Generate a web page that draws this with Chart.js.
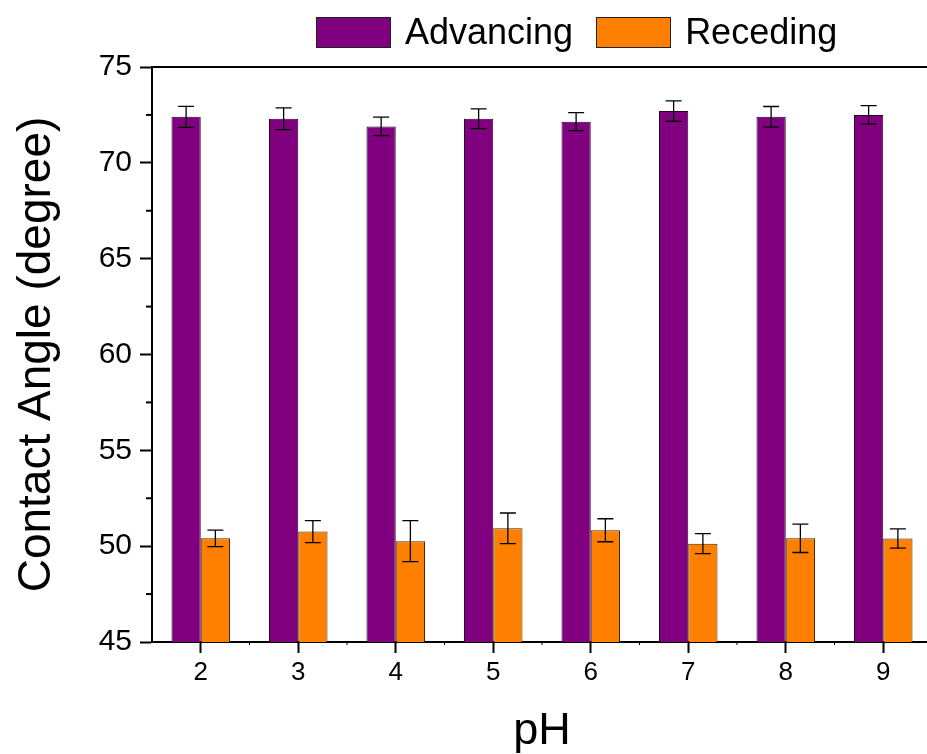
<!DOCTYPE html>
<html>
<head>
<meta charset="utf-8">
<title>Contact angle vs pH</title>
<script src="https://cdn.jsdelivr.net/npm/chart.js@4.4.1/dist/chart.umd.min.js"></script>
<style>
  html, body { margin: 0; padding: 0; overflow: hidden; background: #fff; }
  #wrap { position: relative; width: 927px; height: 754px; overflow: hidden; }
  #legend {
    position: absolute; top: 16px; left: 316px; height: 32px;
    display: flex; align-items: center;
    font-family: "Liberation Sans", Arial, sans-serif; font-size: 36px; color: #000;
  }
  .item { display: flex; align-items: center; margin-right: 23px; }
  .swatch { width: 75px; height: 31px; box-sizing: border-box; border: 1px solid #222; margin-right: 14px; }
</style>
</head>
<body>
<div id="wrap">
  <canvas id="chart" width="940" height="754"></canvas>
  <div id="legend"></div>
</div>
<script>
// pH values on the x axis
const categories = ['2', '3', '4', '5', '6', '7', '8', '9'];

// contact angles (degree), with their error bars
const advancing = [72.4, 72.3, 71.9, 72.3, 72.15, 72.7, 72.4, 72.5];
const advancingErr = [0.55, 0.57, 0.48, 0.52, 0.47, 0.53, 0.54, 0.48];
const receding = [50.41, 50.76, 50.26, 50.93, 50.83, 50.13, 50.41, 50.4];
const recedingErr = [0.43, 0.57, 1.07, 0.8, 0.6, 0.52, 0.74, 0.5];

// y axis ticks: labelled every 5, minor every 2.5
const yMin = 45;
const yMax = 75;
const yStep = 2.5;

const seriesNames = ['Advancing', 'Receding'];
const seriesColors = ['#800080', '#ff8000'];
const seriesBorders = ['#2a002a', '#4a2600'];

Chart.defaults.font.family = '"Liberation Sans", Arial, sans-serif';
Chart.defaults.color = '#000';

// error bars, minor ticks and the top frame line
const extrasPlugin = {
  id: 'extras',
  afterDatasetsDraw(chart) {
    const ctx = chart.ctx;
    const y = chart.scales.y;
    const x = chart.scales.x;
    const area = chart.chartArea;
    const errs = [advancingErr, recedingErr];

    ctx.save();
    ctx.strokeStyle = '#000';
    ctx.lineWidth = 1.3;
    chart.data.datasets.forEach((ds, di) => {
      const meta = chart.getDatasetMeta(di);
      meta.data.forEach((bar, i) => {
        const v = ds.data[i];
        const e = errs[di][i];
        const top = y.getPixelForValue(v + e);
        const bot = y.getPixelForValue(v - e);
        ctx.beginPath();
        ctx.moveTo(bar.x, top);
        ctx.lineTo(bar.x, bot);
        ctx.moveTo(bar.x - 8, top);
        ctx.lineTo(bar.x + 8, top);
        ctx.moveTo(bar.x - 8, bot);
        ctx.lineTo(bar.x + 8, bot);
        ctx.stroke();
      });
    });

    // top frame
    ctx.lineWidth = 2;
    ctx.beginPath();
    ctx.moveTo(area.left - 1, area.top);
    ctx.lineTo(area.right, area.top);
    ctx.stroke();

    // minor y ticks
    for (let v = yMin + yStep; v < yMax; v += 2 * yStep) {
      const py = y.getPixelForValue(v);
      ctx.beginPath();
      ctx.moveTo(area.left - 6, py);
      ctx.lineTo(area.left, py);
      ctx.stroke();
    }

    // minor x ticks between categories
    ctx.lineWidth = 1;
    for (let i = 0; i < categories.length; i++) {
      const px = (x.getPixelForValue(i) + x.getPixelForValue(i + 1)) / 2;
      ctx.beginPath();
      ctx.moveTo(px, area.bottom);
      ctx.lineTo(px, area.bottom + 3);
      ctx.stroke();
    }
    ctx.restore();
  }
};

const chart = new Chart(document.getElementById('chart'), {
  type: 'bar',
  data: {
    labels: categories,
    datasets: [
      {
        label: seriesNames[0],
        data: advancing,
        backgroundColor: seriesColors[0],
        borderColor: seriesBorders[0],
        borderWidth: 1,
        barPercentage: 1,
        categoryPercentage: 0.6
      },
      {
        label: seriesNames[1],
        data: receding,
        backgroundColor: seriesColors[1],
        borderColor: seriesBorders[1],
        borderWidth: 1,
        barPercentage: 1,
        categoryPercentage: 0.6
      }
    ]
  },
  options: {
    responsive: false,
    animation: false,
    layout: { padding: { top: 67, right: 8, left: 0, bottom: 0 } },
    plugins: {
      legend: { display: false },
      tooltip: { enabled: false }
    },
    scales: {
      x: {
        offset: true,
        grid: { offset: false, drawOnChartArea: false, tickLength: 11, tickWidth: 2, color: '#000' },
        border: { color: '#000', width: 2 },
        ticks: { color: '#000', font: { size: 26 }, padding: 4, maxRotation: 0 },
        title: { display: true, text: 'pH', color: '#000', font: { size: 45, lineHeight: 1 }, padding: { top: 0, bottom: 0 } },
        afterFit: s => { s.height = 112; }
      },
      y: {
        min: yMin,
        max: yMax,
        ticks: {
          stepSize: yStep,
          padding: 8,
          color: '#000',
          font: { size: 30 },
          callback: v => (v % 5 === 0 ? v : '')
        },
        grid: {
          drawOnChartArea: false,
          tickLength: 12,
          tickWidth: 2,
          tickColor: c => (c.tick && c.tick.value % 5 === 0 ? '#000' : 'rgba(0,0,0,0)')
        },
        border: { color: '#000', width: 2 },
        title: { display: true, text: 'Contact Angle (degree)', color: '#000', font: { size: 46, lineHeight: 1 }, padding: { top: 14, bottom: 0 } },
        afterFit: s => { s.width = 152; }
      }
    }
  },
  plugins: [extrasPlugin]
});

// legend as html, built from the datasets
const legendBox = document.getElementById('legend');
chart.data.datasets.forEach(ds => {
  const item = document.createElement('div');
  item.className = 'item';
  const sw = document.createElement('div');
  sw.className = 'swatch';
  sw.style.background = ds.backgroundColor;
  const label = document.createElement('span');
  label.textContent = ds.label;
  item.appendChild(sw);
  item.appendChild(label);
  legendBox.appendChild(item);
});
</script>
</body>
</html>
